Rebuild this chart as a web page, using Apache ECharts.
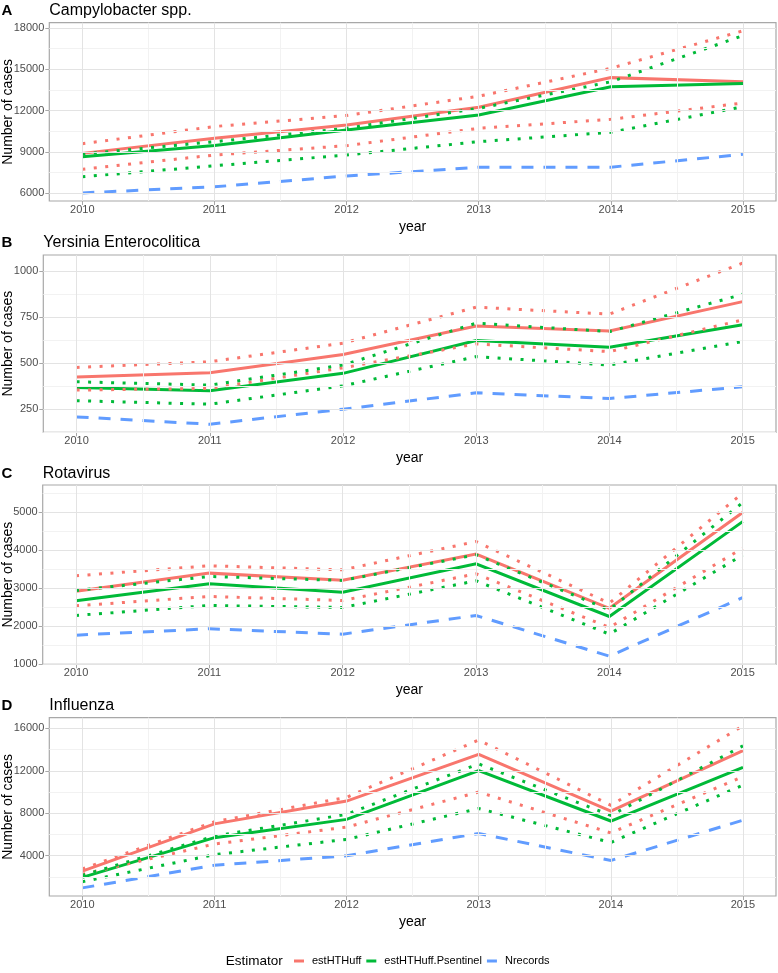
<!DOCTYPE html>
<html><head><meta charset="utf-8">
<script src="https://cdn.jsdelivr.net/npm/echarts@6/dist/echarts.min.js"></script>
<style>html,body{margin:0;padding:0;background:#fff}#c{width:778px;height:973px}</style>
</head><body><div id="c"></div>
<script>
// ---------- data ----------
const years = [2010, 2011, 2012, 2013, 2014, 2015];
const minorYears = [2010.5, 2011.5, 2012.5, 2013.5, 2014.5];
const estimators = ['estHTHuff', 'estHTHuff.Psentinel', 'Nrecords'];
const panelTags = ['A', 'B', 'C', 'D'];
const panelTitles = ['Campylobacter spp.', 'Yersinia Enterocolitica', 'Rotavirus', 'Influenza'];

// A: Campylobacter
const campyEst      = [8900, 10000, 10960, 12250, 14400, 14100];
const campyEstUpper = [9600, 10850, 11650, 13050, 15080, 17800];
const campyEstLower = [7750, 8780, 9460, 10720, 11370, 12560];
const campyPs       = [8650, 9480, 10600, 11680, 13740, 13980];
const campyPsUpper  = [8850, 9750, 10720, 12170, 14100, 17450];
const campyPsLower  = [7200, 8000, 8780, 9750, 10430, 12290];
const campyN        = [6030, 6470, 7260, 7890, 7900, 8830];
const campyTicks    = [6000, 9000, 12000, 15000, 18000];
const campyMinor    = [7500, 10500, 13500, 16500];

// B: Yersinia
const yersEst      = [425, 448, 548, 703, 675, 835];
const yersEstUpper = [477, 508, 609, 805, 767, 1045];
const yersEstLower = [354, 363, 475, 605, 563, 736];
const yersPs       = [368, 350, 445, 623, 587, 709];
const yersPsUpper  = [399, 381, 490, 718, 672, 875];
const yersPsLower  = [296, 277, 377, 536, 490, 618];
const yersN        = [208, 168, 250, 339, 308, 372];
const yersTicks    = [250, 500, 750, 1000];
const yersMinor    = [125, 375, 625, 875];

// C: Rotavirus
const rotaEst      = [2920, 3395, 3210, 3895, 2470, 4990];
const rotaEstUpper = [3325, 3588, 3482, 4225, 2605, 5500];
const rotaEstLower = [2535, 2781, 2675, 3377, 1965, 4050];
const rotaPs       = [2667, 3114, 2895, 3640, 2254, 4750];
const rotaPsUpper  = [2939, 3307, 3202, 3877, 2430, 5250];
const rotaPsLower  = [2281, 2544, 2491, 3193, 1789, 3870];
const rotaN        = [1763, 1930, 1789, 2281, 1210, 2750];
const rotaTicks    = [1000, 2000, 3000, 4000, 5000];
const rotaMinor    = [1500, 2500, 3500, 4500, 5500];

// D: Influenza
const fluEst      = [2550, 7000, 9150, 13550, 8200, 13900];
const fluEstUpper = [2750, 7200, 9500, 14900, 8750, 16240];
const fluEstLower = [2250, 5100, 6700, 10000, 6150, 11450];
const fluPs       = [1960, 5700, 7425, 12010, 7270, 12325];
const fluPsUpper  = [2150, 5850, 7900, 12650, 7800, 14350];
const fluPsLower  = [1550, 4100, 5540, 8450, 5250, 10650];
const fluN        = [970, 3100, 4000, 6100, 3550, 7350];
const fluTicks    = [4000, 8000, 12000, 16000];
const fluMinor    = [2000, 6000, 10000, 14000];

// ---------- layout / style ----------
const FONT = '"Liberation Sans", Arial, Helvetica, sans-serif';
const RED = '#F8766D', GREEN = '#00BA38', BLUE = '#619CFF';
const DOT = [3, 8.5], DASH = [12, 10];

const panels = [
  {est: campyEst, estU: campyEstUpper, estL: campyEstLower, ps: campyPs, psU: campyPsUpper, psL: campyPsLower, n: campyN, ticks: campyTicks, minor: campyMinor,
   grid: {left: 49.3, top: 22.7, height: 178.3}, nameGap: 34, titleTop: 2.5},
  {est: yersEst, estU: yersEstUpper, estL: yersEstLower, ps: yersPs, psU: yersPsUpper, psL: yersPsLower, n: yersN, ticks: yersTicks, minor: yersMinor,
   grid: {left: 43.3, top: 255, height: 177.3}, nameGap: 28, titleTop: 234.5},
  {est: rotaEst, estU: rotaEstUpper, estL: rotaEstLower, ps: rotaPs, psU: rotaPsUpper, psL: rotaPsLower, n: rotaN, ticks: rotaTicks, minor: rotaMinor,
   grid: {left: 42.7, top: 485, height: 179.3}, nameGap: 27.5, titleTop: 466},
  {est: fluEst, estU: fluEstUpper, estL: fluEstLower, ps: fluPs, psU: fluPsUpper, psL: fluPsLower, n: fluN, ticks: fluTicks, minor: fluMinor,
   grid: {left: 49.3, top: 717.7, height: 178.3}, nameGap: 34, titleTop: 698}
];

function expand(vals) {
  const lo = Math.min(...vals), hi = Math.max(...vals), s = hi - lo;
  return [lo - 0.05 * s, hi + 0.05 * s];
}
const xr = expand(years);

const grids = [], xAxes = [], yAxes = [], series = [], titles = [];
const majorStyle = {color: '#E3E3E3', width: 1, type: 'solid'};
const minorStyle = {color: '#F2F2F2', width: 1, type: 'solid'};

function lineS(i, name, ys, color, dash, z) {
  return {
    type: 'line', name: name, xAxisIndex: i, yAxisIndex: i,
    data: years.map((x, k) => [x, ys[k]]),
    showSymbol: false, symbol: 'none', symbolSize: 0, z: z, silent: true, color: color,
    lineStyle: {color: color, width: 3, type: dash, cap: 'butt', join: 'miter'},
    itemStyle: {color: color}, emphasis: {disabled: true}, animation: false
  };
}

panels.forEach((p, i) => {
  const all = [].concat(p.est, p.estU, p.estL, p.ps, p.psU, p.psL, p.n);
  const yr = expand(all);
  grids.push({left: p.grid.left, top: p.grid.top, right: 2, height: p.grid.height,
    show: true, borderColor: '#A8A8A8', borderWidth: 1.2, backgroundColor: 'transparent',
    containLabel: false, outerBoundsMode: 'none'});
  xAxes.push({type: 'value', gridIndex: i, min: xr[0], max: xr[1],
    splitLine: {show: false}, axisLine: {show: false},
    axisTick: {show: true, customValues: years, length: 4, lineStyle: {color: '#A8A8A8', width: 1}},
    axisLabel: {customValues: years, formatter: v => String(v), color: '#4D4D4D', fontSize: 11, margin: 3, fontFamily: FONT},
    name: 'year', nameLocation: 'middle', nameGap: 19, nameMoveOverlap: false,
    nameTextStyle: {fontSize: 14, color: '#000', fontFamily: FONT}});
  yAxes.push({type: 'value', gridIndex: i, min: yr[0], max: yr[1],
    splitLine: {show: false}, axisLine: {show: false},
    axisTick: {show: true, customValues: p.ticks, length: 4, lineStyle: {color: '#A8A8A8', width: 1}},
    axisLabel: {customValues: p.ticks, formatter: v => String(v), color: '#4D4D4D', fontSize: 11, margin: 5, fontFamily: FONT},
    name: 'Number of cases', nameLocation: 'middle', nameGap: p.nameGap, nameRotate: 90, nameMoveOverlap: false,
    nameTextStyle: {fontSize: 14, color: '#000', fontFamily: FONT}});
  // gridlines
  series.push({type: 'line', xAxisIndex: i, yAxisIndex: i, data: [], silent: true, z: 1, animation: false,
    symbol: 'none',
    markLine: {silent: true, symbol: ['none', 'none'], label: {show: false}, animation: false,
      emphasis: {disabled: true},
      data: [].concat(
        p.minor.filter(v => v > yr[0] + 1e-9 && v < yr[1]).map(v => ({yAxis: v, lineStyle: minorStyle})),
        minorYears.map(v => ({xAxis: v, lineStyle: minorStyle})),
        p.ticks.map(v => ({yAxis: v, lineStyle: majorStyle})),
        years.map(v => ({xAxis: v, lineStyle: majorStyle}))
      )}});
  series.push(lineS(i, estimators[0], p.est, RED, 'solid', 3));
  series.push(lineS(i, estimators[1], p.ps, GREEN, 'solid', 3));
  series.push(lineS(i, estimators[2], p.n, BLUE, DASH, 3));
  series.push(lineS(i, estimators[0] + ' upper', p.estU, RED, DOT, 4));
  series.push(lineS(i, estimators[0] + ' lower', p.estL, RED, DOT, 4));
  series.push(lineS(i, estimators[1] + ' upper', p.psU, GREEN, DOT, 4));
  series.push(lineS(i, estimators[1] + ' lower', p.psL, GREEN, DOT, 4));
  titles.push({text: panelTags[i], left: 1.5, top: p.titleTop + 0.5, padding: 0,
    textStyle: {fontSize: 15, fontWeight: 'bold', color: '#000', fontFamily: FONT}});
  titles.push({text: panelTitles[i], left: p.grid.left, top: p.titleTop, padding: 0,
    textStyle: {fontSize: 16, fontWeight: 'normal', color: '#000', fontFamily: FONT}});
});
titles.push({text: 'Estimator', left: 225.7, top: 954, padding: 0,
  textStyle: {fontSize: 13.5, fontWeight: 'normal', color: '#000', fontFamily: FONT}});

const chart = echarts.init(document.getElementById('c'), null, {renderer: 'canvas'});
chart.setOption({
  animation: false,
  backgroundColor: '#ffffff',
  textStyle: {fontFamily: FONT},
  title: titles,
  grid: grids,
  xAxis: xAxes,
  yAxis: yAxes,
  legend: {data: estimators, left: 294, top: 955.5, orient: 'horizontal', icon: 'rect',
    itemWidth: 10, itemHeight: 3, itemGap: 5, selectedMode: false, padding: 0,
    itemStyle: {borderWidth: 0}, lineStyle: {width: 0},
    textStyle: {fontSize: 11, color: '#000', fontFamily: FONT, padding: [0, 0, 0, 3]}},
  tooltip: {show: false},
  series: series
});
</script>
</body></html>
